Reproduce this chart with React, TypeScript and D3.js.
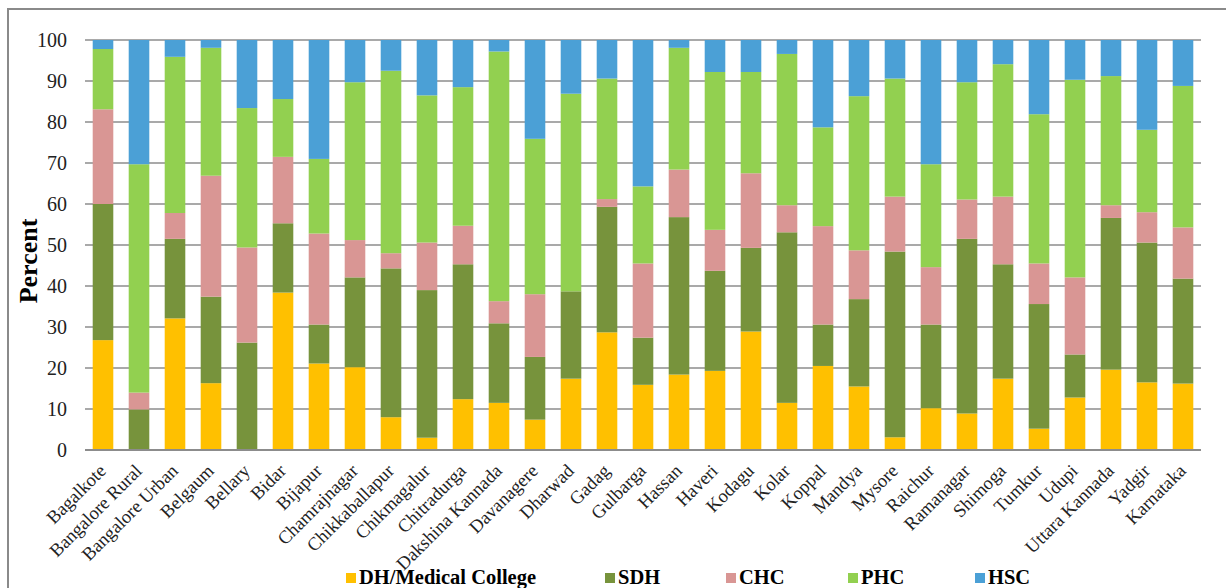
import React from "react";
import * as d3 from "d3";

const districts = [
  "Bagalkote", "Bangalore Rural", "Bangalore Urban", "Belgaum", "Bellary", "Bidar", "Bijapur",
  "Chamrajnagar", "Chikkaballapur", "Chikmagalur", "Chitradurga", "Dakshina Kannada", "Davanagere",
  "Dharwad", "Gadag", "Gulbarga", "Hassan", "Haveri", "Kodagu", "Kolar", "Koppal", "Mandya",
  "Mysore", "Raichur", "Ramanagar", "Shimoga", "Tumkur", "Udupi", "Uttara Kannada", "Yadgir", "Karnataka",
];

const seriesNames = ["DH/Medical College", "SDH", "CHC", "PHC", "HSC"];
const seriesColors = ["#FFC000", "#77933C", "#D99694", "#92D050", "#4BA0D6"];

const dhMedical = [26.8, 0, 32.1, 16.3, 0, 38.4, 21.1, 20.2, 8.0, 3.0, 12.4, 11.5, 7.4, 17.4, 28.7, 15.9, 18.4, 19.3, 28.9, 11.5, 20.5, 15.5, 3.1, 10.2, 8.9, 17.4, 5.2, 12.8, 19.6, 16.5, 16.2];
const sdh = [33.2, 9.9, 19.4, 21.1, 26.2, 16.9, 9.5, 21.9, 36.3, 36.0, 32.9, 19.4, 15.3, 21.3, 30.6, 11.5, 38.4, 24.4, 20.4, 41.6, 10.1, 21.3, 45.3, 20.4, 42.6, 27.9, 30.4, 10.5, 37.0, 34.1, 25.6];
const chc = [23.1, 4.1, 6.3, 29.5, 23.2, 16.2, 22.2, 9.1, 3.7, 11.6, 9.4, 5.4, 15.3, 0, 1.9, 18.1, 11.6, 10.0, 18.2, 6.6, 24.0, 11.9, 13.4, 14.0, 9.6, 16.5, 9.9, 18.8, 3.1, 7.4, 12.5];
const phc = [14.7, 55.7, 38.1, 31.2, 34.0, 14.1, 18.2, 38.5, 44.5, 35.9, 33.8, 60.9, 37.9, 48.2, 29.4, 18.8, 29.7, 38.5, 24.7, 36.9, 24.1, 37.6, 28.8, 25.1, 28.6, 32.3, 36.4, 48.2, 31.5, 20.1, 34.5];
const hsc = [2.2, 30.3, 4.1, 1.9, 16.6, 14.4, 29.0, 10.3, 7.5, 13.5, 11.5, 2.8, 24.1, 13.1, 9.4, 35.7, 1.9, 7.8, 7.8, 3.4, 21.3, 13.7, 9.4, 30.3, 10.3, 5.9, 18.1, 9.7, 8.8, 21.9, 11.2];

const yTicks = [0, 10, 20, 30, 40, 50, 60, 70, 80, 90, 100];

const FONT = '"Liberation Serif", "Times New Roman", Times, "DejaVu Serif", serif';

export default function App() {
  const W = 1226, H = 588;
  const left = 85, right = 1201, top = 40, bottom = 450;

  const rows = districts.map((d, i) => ({
    name: d,
    s0: dhMedical[i], s1: sdh[i], s2: chc[i], s3: phc[i], s4: hsc[i],
  }));
  const keys = ["s0", "s1", "s2", "s3", "s4"];
  const stacked = d3.stack<any>().keys(keys)(rows);

  const x = d3.scaleBand<string>().domain(districts).range([left, right]).paddingInner(0.428).paddingOuter(0.214);
  const y = d3.scaleLinear().domain([0, 100]).range([bottom, top]);

  const legendX = [346, 605, 726, 848, 975];

  return (
    <svg width={W} height={H} style={{ position: "absolute", left: 0, top: 0, background: "#fff", fontFamily: FONT }}>
      <rect x={8} y={9} width={1240} height={600} fill="#fff" stroke="#8a8a8a" strokeWidth={2} />
      {yTicks.map((t) => (
        <g key={t}>
          {t > 0 && <line x1={left} x2={right} y1={y(t)} y2={y(t)} stroke="#8c8c8c" strokeWidth={1.6} />}
          <text x={67} y={y(t)} dy="0.35em" textAnchor="end" fontSize={20} fill="#222" style={{ fontFamily: FONT }}>{t}</text>
        </g>
      ))}
      {stacked.map((layer, li) => (
        <g key={li} fill={seriesColors[li]}>
          {layer.map((d, i) => {
            const h = y(d[0]) - y(d[1]);
            if (h <= 0) return null;
            return <rect key={i} x={x(districts[i])} y={y(d[1])} width={x.bandwidth()} height={h} />;
          })}
        </g>
      ))}
      <line x1={left} x2={right} y1={bottom} y2={bottom} stroke="#8c8c8c" strokeWidth={2} />
      <text transform={`translate(37,261) rotate(-90)`} textAnchor="middle" fontSize={26} fontWeight="bold" fill="#000" style={{ fontFamily: FONT }}>Percent</text>
      {districts.map((d) => {
        const cx = (x(d) as number) + x.bandwidth() / 2;
        return (
          <text key={d} transform={`translate(${cx + 4},472) rotate(-45)`} textAnchor="end" fontSize={18.5} fill="#222" style={{ fontFamily: FONT }}>{d}</text>
        );
      })}
      {seriesNames.map((n, i) => (
        <g key={n}>
          <rect x={legendX[i]} y={573} width={10} height={10} fill={seriesColors[i]} />
          <text x={legendX[i] + 13} y={584} fontSize={20.5} fontWeight="bold" fill="#000" style={{ fontFamily: FONT }}>{n}</text>
        </g>
      ))}
    </svg>
  );
}
